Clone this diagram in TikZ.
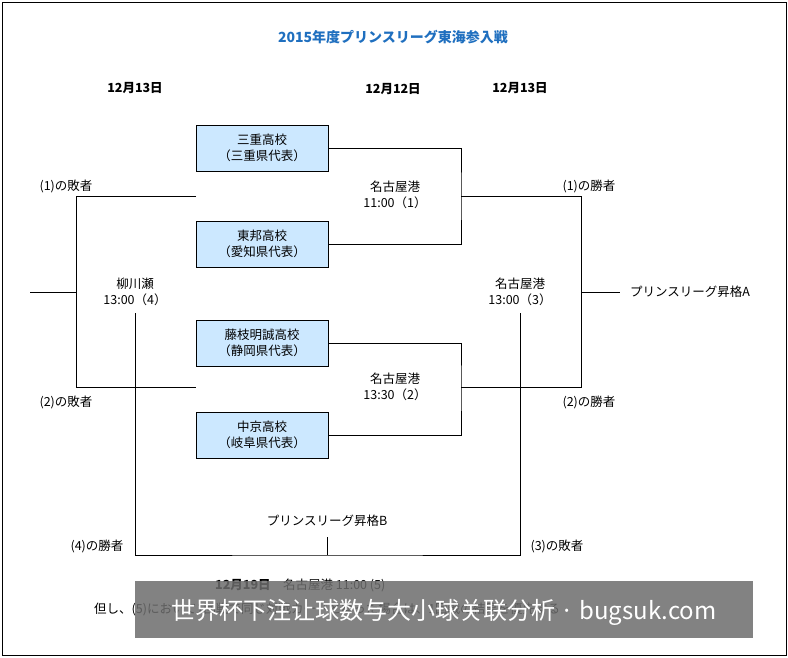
\documentclass[tikz,border=0pt]{standalone}
\usepackage{fontspec}
\setmainfont{Noto Sans CJK JP}
\begin{document}
\begin{tikzpicture}[x=1pt,y=-1pt,
  team/.style={draw,fill=boxblue,minimum width=132pt,minimum height=46pt,align=center,font=\fontsize{12.5}{16}\selectfont,inner sep=0pt},
  lbl/.style={align=center,font=\fontsize{12.5}{16}\selectfont,inner sep=1pt},
  ln/.style={line width=0.8pt}]
\definecolor{boxblue}{HTML}{CCE8FF}
\definecolor{ttl}{HTML}{1F6FBF}
\useasboundingbox (0,0) rectangle (788,657);
\draw[line width=1pt] (2,2) rectangle (786,655);
\node[font=\fontsize{14}{16}\selectfont\bfseries,text=ttl] (title) at (393,37) {2015年度プリンスリーグ東海参入戦};
\node[lbl,font=\fontsize{12.5}{14}\selectfont\bfseries] (d1) at (135,88) {12月13日};
\node[lbl,font=\fontsize{12.5}{14}\selectfont\bfseries] (d2) at (393,89) {12月12日};
\node[lbl,font=\fontsize{12.5}{14}\selectfont\bfseries] (d3) at (520,88) {12月13日};
\node[team] (t1) at (262,148) {三重高校\\（三重県代表）};
\node[team] (t2) at (262,244) {東邦高校\\（愛知県代表）};
\node[team] (t3) at (262,343) {藤枝明誠高校\\（静岡県代表）};
\node[team] (t4) at (262,435) {中京高校\\（岐阜県代表）};
\coordinate (m1) at (461,196);
\coordinate (m2) at (461,387);
\coordinate (w1) at (581,196);
\coordinate (w2) at (581,387);
\coordinate (l1) at (196,196);
\coordinate (l2) at (196,387);
\coordinate (l1e) at (76,196);
\coordinate (l2e) at (76,387);
\coordinate (aout) at (620,292);
\coordinate (lout) at (30,292);
\draw[ln] (t1.east) -| (m1) |- (t2.east);
\draw[ln] (t3.east) -| (m2) |- (t4.east);
\draw[ln] (m1) -- (w1) -- (w2) -- (m2);
\draw[ln] (581,292) -- (aout);
\draw[ln] (l1) -- (l1e) -- (l2e) -- (l2);
\draw[ln] (76,292) -- (lout);
\coordinate (b1) at (135,313);
\coordinate (b2) at (520,313);
\coordinate (bm) at (327,537);
\draw[ln] (b1) |- (327,555) -| (b2);
\draw[ln] (bm) -- (327,555);
\node[lbl] (g1) at (395,195) {名古屋港\\11:00（1）};
\node[lbl] (g2) at (395,387) {名古屋港\\13:30（2）};
\node[lbl] (g3) at (520,292) {名古屋港\\13:00（3）};
\node[lbl] (g4) at (135,292) {柳川瀬\\13:00（4）};
\node[lbl] (pa) at (690,292) {プリンスリーグ昇格A};
\node[lbl] (pb) at (327,521) {プリンスリーグ昇格B};
\node[lbl] (w1l) at (589,186) {(1)の勝者};
\node[lbl] (w2l) at (589,402) {(2)の勝者};
\node[lbl] (l1l) at (66,186) {(1)の敗者};
\node[lbl] (l2l) at (66,402) {(2)の敗者};
\node[lbl] (w4l) at (97,546) {(4)の勝者};
\node[lbl] (l3l) at (557,546) {(3)の敗者};
\node[lbl,anchor=west] (fin) at (214,585) {\textbf{12月19日}\quad 名古屋港 11:00 (5)};
\node[lbl,anchor=west] (note) at (93,609) {但し、(5)において1回戦で同じ対戦カードとなった場合は、1回戦の結果を優先する};
\fill[gray!85!black,opacity=0.85] (135,581) rectangle (753,638);
\node[text=white,font=\fontsize{24}{28}\selectfont] (wm) at (444,612) {世界杯下注让球数与大小球关联分析 · bugsuk.com};
\end{tikzpicture}
\end{document}
